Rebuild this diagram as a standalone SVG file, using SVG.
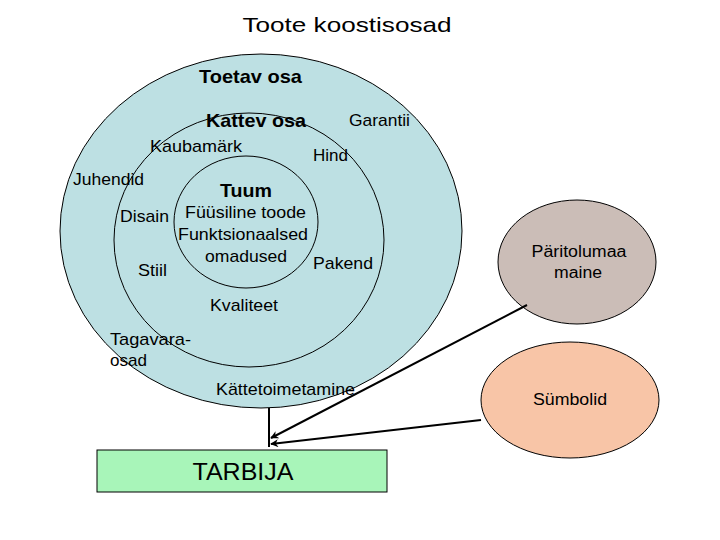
<svg xmlns="http://www.w3.org/2000/svg" width="720" height="540" viewBox="0 0 720 540">
<defs>
<style>
text{font-family:"Liberation Sans",Arial,sans-serif;fill:#000;}
.t{font-size:17px;}
.b{font-size:19px;font-weight:bold;}
.ring{stroke:#000;stroke-width:1;}
.conn{stroke:#000;stroke-width:2;fill:none;}
</style>
<marker id="ah" viewBox="0 0 10 10" refX="9" refY="5" markerWidth="4" markerHeight="4" orient="auto" markerUnits="strokeWidth">
<path d="M0,0 L10,5 L0,10 L3,5 Z" fill="#000"/>
</marker>
</defs>
<rect width="720" height="540" fill="#fff"/>
<text x="347" y="32" font-size="21" text-anchor="middle" textLength="209" lengthAdjust="spacingAndGlyphs">Toote koostisosad</text>

<g id="toetav">
<ellipse class="ring" cx="261" cy="231" rx="201" ry="177" fill="#bde0e3"/>
<text class="b" x="199" y="83" textLength="103" lengthAdjust="spacingAndGlyphs">Toetav osa</text>
<text class="t" x="349" y="126" textLength="61" lengthAdjust="spacingAndGlyphs">Garantii</text>
<text class="t" x="73" y="185" textLength="71" lengthAdjust="spacingAndGlyphs">Juhendid</text>
<text class="t" x="110" y="345" textLength="81" lengthAdjust="spacingAndGlyphs">Tagavara-</text>
<text class="t" x="110" y="366" textLength="37" lengthAdjust="spacingAndGlyphs">osad</text>
<text class="t" x="216" y="395" textLength="139" lengthAdjust="spacingAndGlyphs">Kättetoimetamine</text>
</g>

<g id="kattev">
<ellipse class="ring" cx="249" cy="240" rx="135" ry="127" fill="none"/>
<text class="b" x="206" y="127" font-size="20" textLength="100" lengthAdjust="spacingAndGlyphs">Kattev osa</text>
<text class="t" x="150" y="152" textLength="92" lengthAdjust="spacingAndGlyphs">Kaubamärk</text>
<text class="t" x="313" y="161" textLength="35" lengthAdjust="spacingAndGlyphs">Hind</text>
<text class="t" x="120" y="222" textLength="49" lengthAdjust="spacingAndGlyphs">Disain</text>
<text class="t" x="138" y="276" textLength="29" lengthAdjust="spacingAndGlyphs">Stiil</text>
<text class="t" x="313" y="269" textLength="60" lengthAdjust="spacingAndGlyphs">Pakend</text>
<text class="t" x="210" y="311" textLength="68" lengthAdjust="spacingAndGlyphs">Kvaliteet</text>
</g>

<g id="tuum">
<ellipse class="ring" cx="246" cy="222" rx="72" ry="66" fill="none"/>
<text class="b" x="220" y="197" textLength="52" lengthAdjust="spacingAndGlyphs">Tuum</text>
<text class="t" x="185" y="218" textLength="121" lengthAdjust="spacingAndGlyphs">Füüsiline toode</text>
<text class="t" x="178" y="240" textLength="130" lengthAdjust="spacingAndGlyphs">Funktsionaalsed</text>
<text class="t" x="205" y="262" textLength="82" lengthAdjust="spacingAndGlyphs">omadused</text>
</g>

<g id="paritolumaa">
<ellipse class="ring" cx="577" cy="262" rx="79" ry="62" fill="#cbbdb7"/>
<text x="579" y="257" font-size="16" text-anchor="middle" textLength="95" lengthAdjust="spacingAndGlyphs">Päritolumaa</text>
<text x="578" y="278" font-size="16" text-anchor="middle" textLength="48" lengthAdjust="spacingAndGlyphs">maine</text>
</g>

<g id="symbolid">
<ellipse class="ring" cx="570" cy="400" rx="89" ry="58" fill="#f8c5a7"/>
<text x="570" y="405" font-size="16" text-anchor="middle" textLength="74" lengthAdjust="spacingAndGlyphs">Sümbolid</text>
</g>

<g id="tarbija">
<rect x="97" y="450" width="290" height="42" fill="#a8f5b9" stroke="#000" stroke-width="1"/>
<text x="243" y="480" font-size="23" text-anchor="middle" textLength="101" lengthAdjust="spacingAndGlyphs">TARBIJA</text>
</g>

<g id="connectors">
<line class="conn" x1="269" y1="408" x2="269" y2="447"/>
<line class="conn" x1="527" y1="305" x2="271" y2="438" marker-end="url(#ah)"/>
<line class="conn" x1="481" y1="420" x2="271" y2="444" marker-end="url(#ah)"/>
</g>
</svg>
